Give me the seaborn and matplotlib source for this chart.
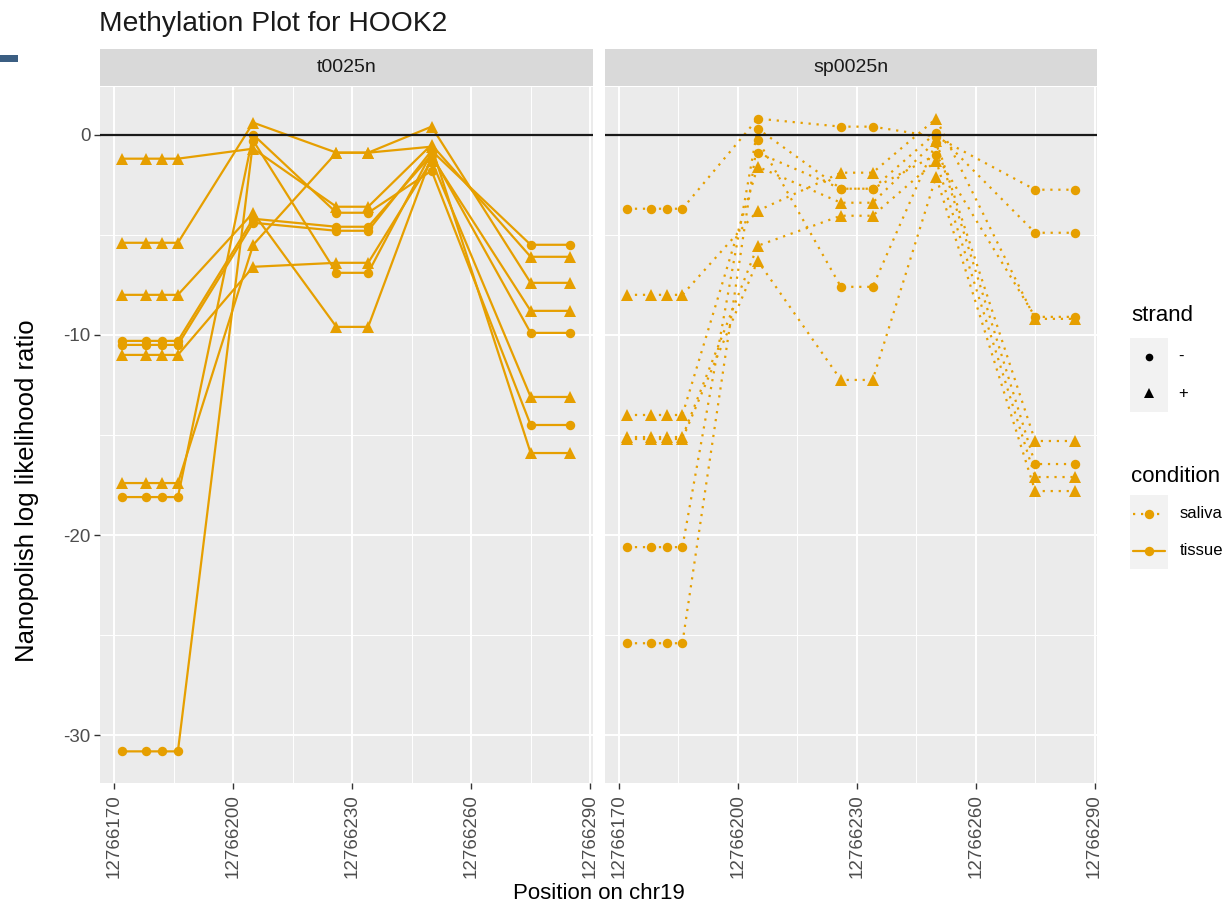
import numpy as np
import pandas as pd
import matplotlib
matplotlib.use("Agg")
import matplotlib.pyplot as plt
from matplotlib.patches import Rectangle
from matplotlib.lines import Line2D
import seaborn as sns

nan = np.nan

# ---------------- data ----------------
# CpG groups (positions on chr19); all CpGs in a group share one log-likelihood ratio
group_positions = [
    [12766172, 12766178, 12766182, 12766186],
    [12766205],
    [12766226, 12766234],
    [12766250],
    [12766275, 12766285],
]

# sample t0025n (tissue) - one entry per read
tissue_strand = ["+", "+", "+", "-", "-", "+", "+", "-", "-"]
tissue_g1 = [-1.2, -5.4, -8.0, -10.3, -10.5, -11.0, -17.4, -18.1, -30.8]
tissue_g2 = [-0.7, 0.6, -3.9, -4.2, -4.4, -6.6, -5.5, 0.0, -0.3]
tissue_g3 = [-3.6, -0.9, -9.6, -4.6, -4.8, -6.4, -0.9, -3.9, -6.9]
tissue_g4 = [-0.5, 0.4, -1.1, -1.0, -0.8, -1.3, -0.6, -1.8, -0.9]
tissue_g5 = [-6.1, -7.4, -8.8, -9.9, -5.5, -13.1, -15.9, -14.5, nan]

# sample sp0025n (saliva) - one entry per read
saliva_strand = ["-", "-", "-", "-", "+", "+", "+", "+"]
saliva_g1 = [-3.7, -20.6, -25.4, nan, -8.0, -14.0, -15.1, -15.2]
saliva_g2 = [0.8, 0.3, -0.25, -0.9, -3.8, -1.6, -5.55, -6.3]
saliva_g3 = [0.4, -2.7, -7.6, -2.7, -1.9, -3.4, -4.05, -12.25]
saliva_g4 = [-0.1, 0.1, -0.4, -1.0, 0.8, -0.3, -1.3, -2.1]
saliva_g5 = [-2.75, -4.9, -16.45, -9.1, -9.2, -15.3, -17.1, -17.8]

samples = ["t0025n", "sp0025n"]
conditions = ["tissue", "saliva"]
x_ticks = [12766170, 12766200, 12766230, 12766260, 12766290]
x_tick_labels = ["12766170", "12766200", "12766230", "12766260", "12766290"]
y_ticks = [0, -10, -20, -30]
y_tick_labels = ["0", "-10", "-20", "-30"]

# ---------------- build long table ----------------
rows = []
def add_reads(sample, cond, strands, groups):
    for r, strand in enumerate(strands):
        for g, poss in enumerate(group_positions):
            val = groups[g][r]
            if np.isnan(val):
                continue
            for p in poss:
                rows.append(dict(sample=sample, condition=cond, read=f"{sample}_{r}",
                                 strand=strand, pos=p, llr=val))

add_reads("t0025n", "tissue", tissue_strand,
          [tissue_g1, tissue_g2, tissue_g3, tissue_g4, tissue_g5])
add_reads("sp0025n", "saliva", saliva_strand,
          [saliva_g1, saliva_g2, saliva_g3, saliva_g4, saliva_g5])
df = pd.DataFrame(rows)

# ---------------- style ----------------
sns.set_theme(style="darkgrid")
plt.rcParams["font.family"] = ["Liberation Sans", "DejaVu Sans"]
plt.rcParams["axes.unicode_minus"] = False

ORANGE = "#E69F00"
W, H = 1229, 905
fig = plt.figure(figsize=(W / 100, H / 100), dpi=100)
fig.patch.set_facecolor("white")

def fx(px):
    return px / W

def fy(py):
    return 1 - py / H

panel_top, panel_bot = 87, 783
panels_x = [(100, 592.7), (604.5, 1097.2)]

all_pos = [p for g in group_positions for p in g]
xmin, xmax = min(all_pos), max(all_pos)
xpad = (xmax - xmin) * 0.05
ymin, ymax = df["llr"].min(), df["llr"].max()
ypad = (ymax - ymin) * 0.05

dash_styles = {"tissue": "", "saliva": (1, 2.6)}

for i, (sample, cond) in enumerate(zip(samples, conditions)):
    x0, x1 = panels_x[i]
    ax = fig.add_axes([fx(x0), fy(panel_bot), fx(x1) - fx(x0), (panel_bot - panel_top) / H])
    ax.set_facecolor("#EBEBEB")
    sub = df[df["sample"] == sample]
    d = dash_styles[cond]
    sns.lineplot(data=sub, x="pos", y="llr", units="read", estimator=None,
                 style="strand", markers={"-": "o", "+": "^"},
                 dashes={"-": d, "+": d}, color=ORANGE, linewidth=1.6,
                 markersize=6.8, markeredgewidth=0, legend=False, ax=ax, zorder=3)
    for ln in ax.lines:
        if ln.get_marker() == "^":
            ln.set_markersize(8)
    ax.axhline(0, color="#1A1A1A", lw=1.6, zorder=4)

    ax.set_xlim(xmin - xpad, xmax + xpad)
    ax.set_ylim(ymin - ypad, ymax + ypad)
    ax.set_xticks(x_ticks)
    ax.set_xticklabels(x_tick_labels, rotation=90, va="top", ha="center")
    ax.set_xticks([12766185, 12766215, 12766245, 12766275], minor=True)
    ax.set_yticks(y_ticks)
    ax.set_yticks([-5, -15, -25], minor=True)
    if i == 0:
        ax.set_yticklabels(y_tick_labels)
        ax.tick_params(axis="y", which="major", length=4, width=1, color="#333333",
                       labelsize=13.5, labelcolor="#4D4D4D", pad=3, left=True)
    else:
        ax.set_yticklabels([])
        ax.tick_params(axis="y", which="major", length=0)
    ax.tick_params(axis="x", which="major", length=4, width=1, color="#333333",
                   labelsize=13.5, labelcolor="#4D4D4D", pad=4, bottom=True)
    ax.tick_params(which="minor", length=0)
    ax.grid(which="major", color="white", lw=1.4)
    ax.grid(which="minor", color="white", lw=0.7)
    ax.set_axisbelow(True)
    for s in ax.spines.values():
        s.set_visible(False)
    ax.set_xlabel("")
    ax.set_ylabel("")

    # facet strip
    sh = (panel_top - 49) / (panel_bot - panel_top)
    ax.add_patch(Rectangle((0, 1 + 1 / (panel_bot - panel_top)), 1, sh - 1 / (panel_bot - panel_top),
                           transform=ax.transAxes, facecolor="#D9D9D9",
                           edgecolor="none", clip_on=False, zorder=1))
    ax.text(0.5, 1 + (panel_top - 67.5) / (panel_bot - panel_top), sample,
            transform=ax.transAxes, ha="center", va="center",
            fontsize=14, color="#1A1A1A")

# titles
fig.text(fx(99), fy(31), "Methylation Plot for HOOK2", fontsize=20.3,
         color="#1A1A1A", ha="left", va="baseline")
fig.text(fx(598.5), fy(899), "Position on chr19", fontsize=16,
         color="black", ha="center", va="baseline")
fig.text(fx(27), fy(491), "Nanopolish log likelihood ratio", fontsize=18.5,
         color="black", ha="center", va="center", rotation=90)

# small decoration bar at the left edge
fig.patches.append(Rectangle((0, fy(62)), fx(18), (62 - 55) / H,
                             transform=fig.transFigure, facecolor="#3B5E82",
                             edgecolor="none"))

# ---------------- legends ----------------
def key_box(y_top, n):
    fig.patches.append(Rectangle((fx(1130), fy(y_top + 37 * n)), fx(1168) - fx(1130),
                                 37 * n / H, transform=fig.transFigure,
                                 facecolor="#F2F2F2", edgecolor="none"))

fig.text(fx(1131), fy(321), "strand", fontsize=16, color="black",
         ha="left", va="baseline")
key_box(338, 2)
strand_labels = ["-", "+"]
strand_markers = ["o", "^"]
for k, (lab, mk) in enumerate(zip(strand_labels, strand_markers)):
    yc = 338 + 18.5 + 37 * k
    fig.add_artist(Line2D([fx(1149)], [fy(yc)], transform=fig.transFigure,
                          marker=mk, color="black", markersize=5.5 if mk == "o" else 6.5,
                          markeredgewidth=0, linestyle="none"))
    fig.text(fx(1178), fy(yc), lab, fontsize=12, color="black",
             ha="left", va="center")

fig.text(fx(1131), fy(482), "condition", fontsize=16, color="black",
         ha="left", va="baseline")
key_box(495, 2)
cond_labels = ["saliva", "tissue"]
for k, lab in enumerate(cond_labels):
    yc = 495 + 18.5 + 37 * k
    ls = (0, (1, 2.6)) if lab == "saliva" else "-"
    fig.add_artist(Line2D([fx(1133), fx(1165)], [fy(yc), fy(yc)],
                          transform=fig.transFigure, color=ORANGE, lw=1.6,
                          linestyle=ls))
    fig.add_artist(Line2D([fx(1149)], [fy(yc)], transform=fig.transFigure,
                          marker="o", color=ORANGE, markersize=6.8,
                          markeredgewidth=0, linestyle="none"))
    fig.text(fx(1180), fy(yc), lab, fontsize=12, color="black",
             ha="left", va="center")

fig.savefig("out.png", dpi=100, facecolor="white")
